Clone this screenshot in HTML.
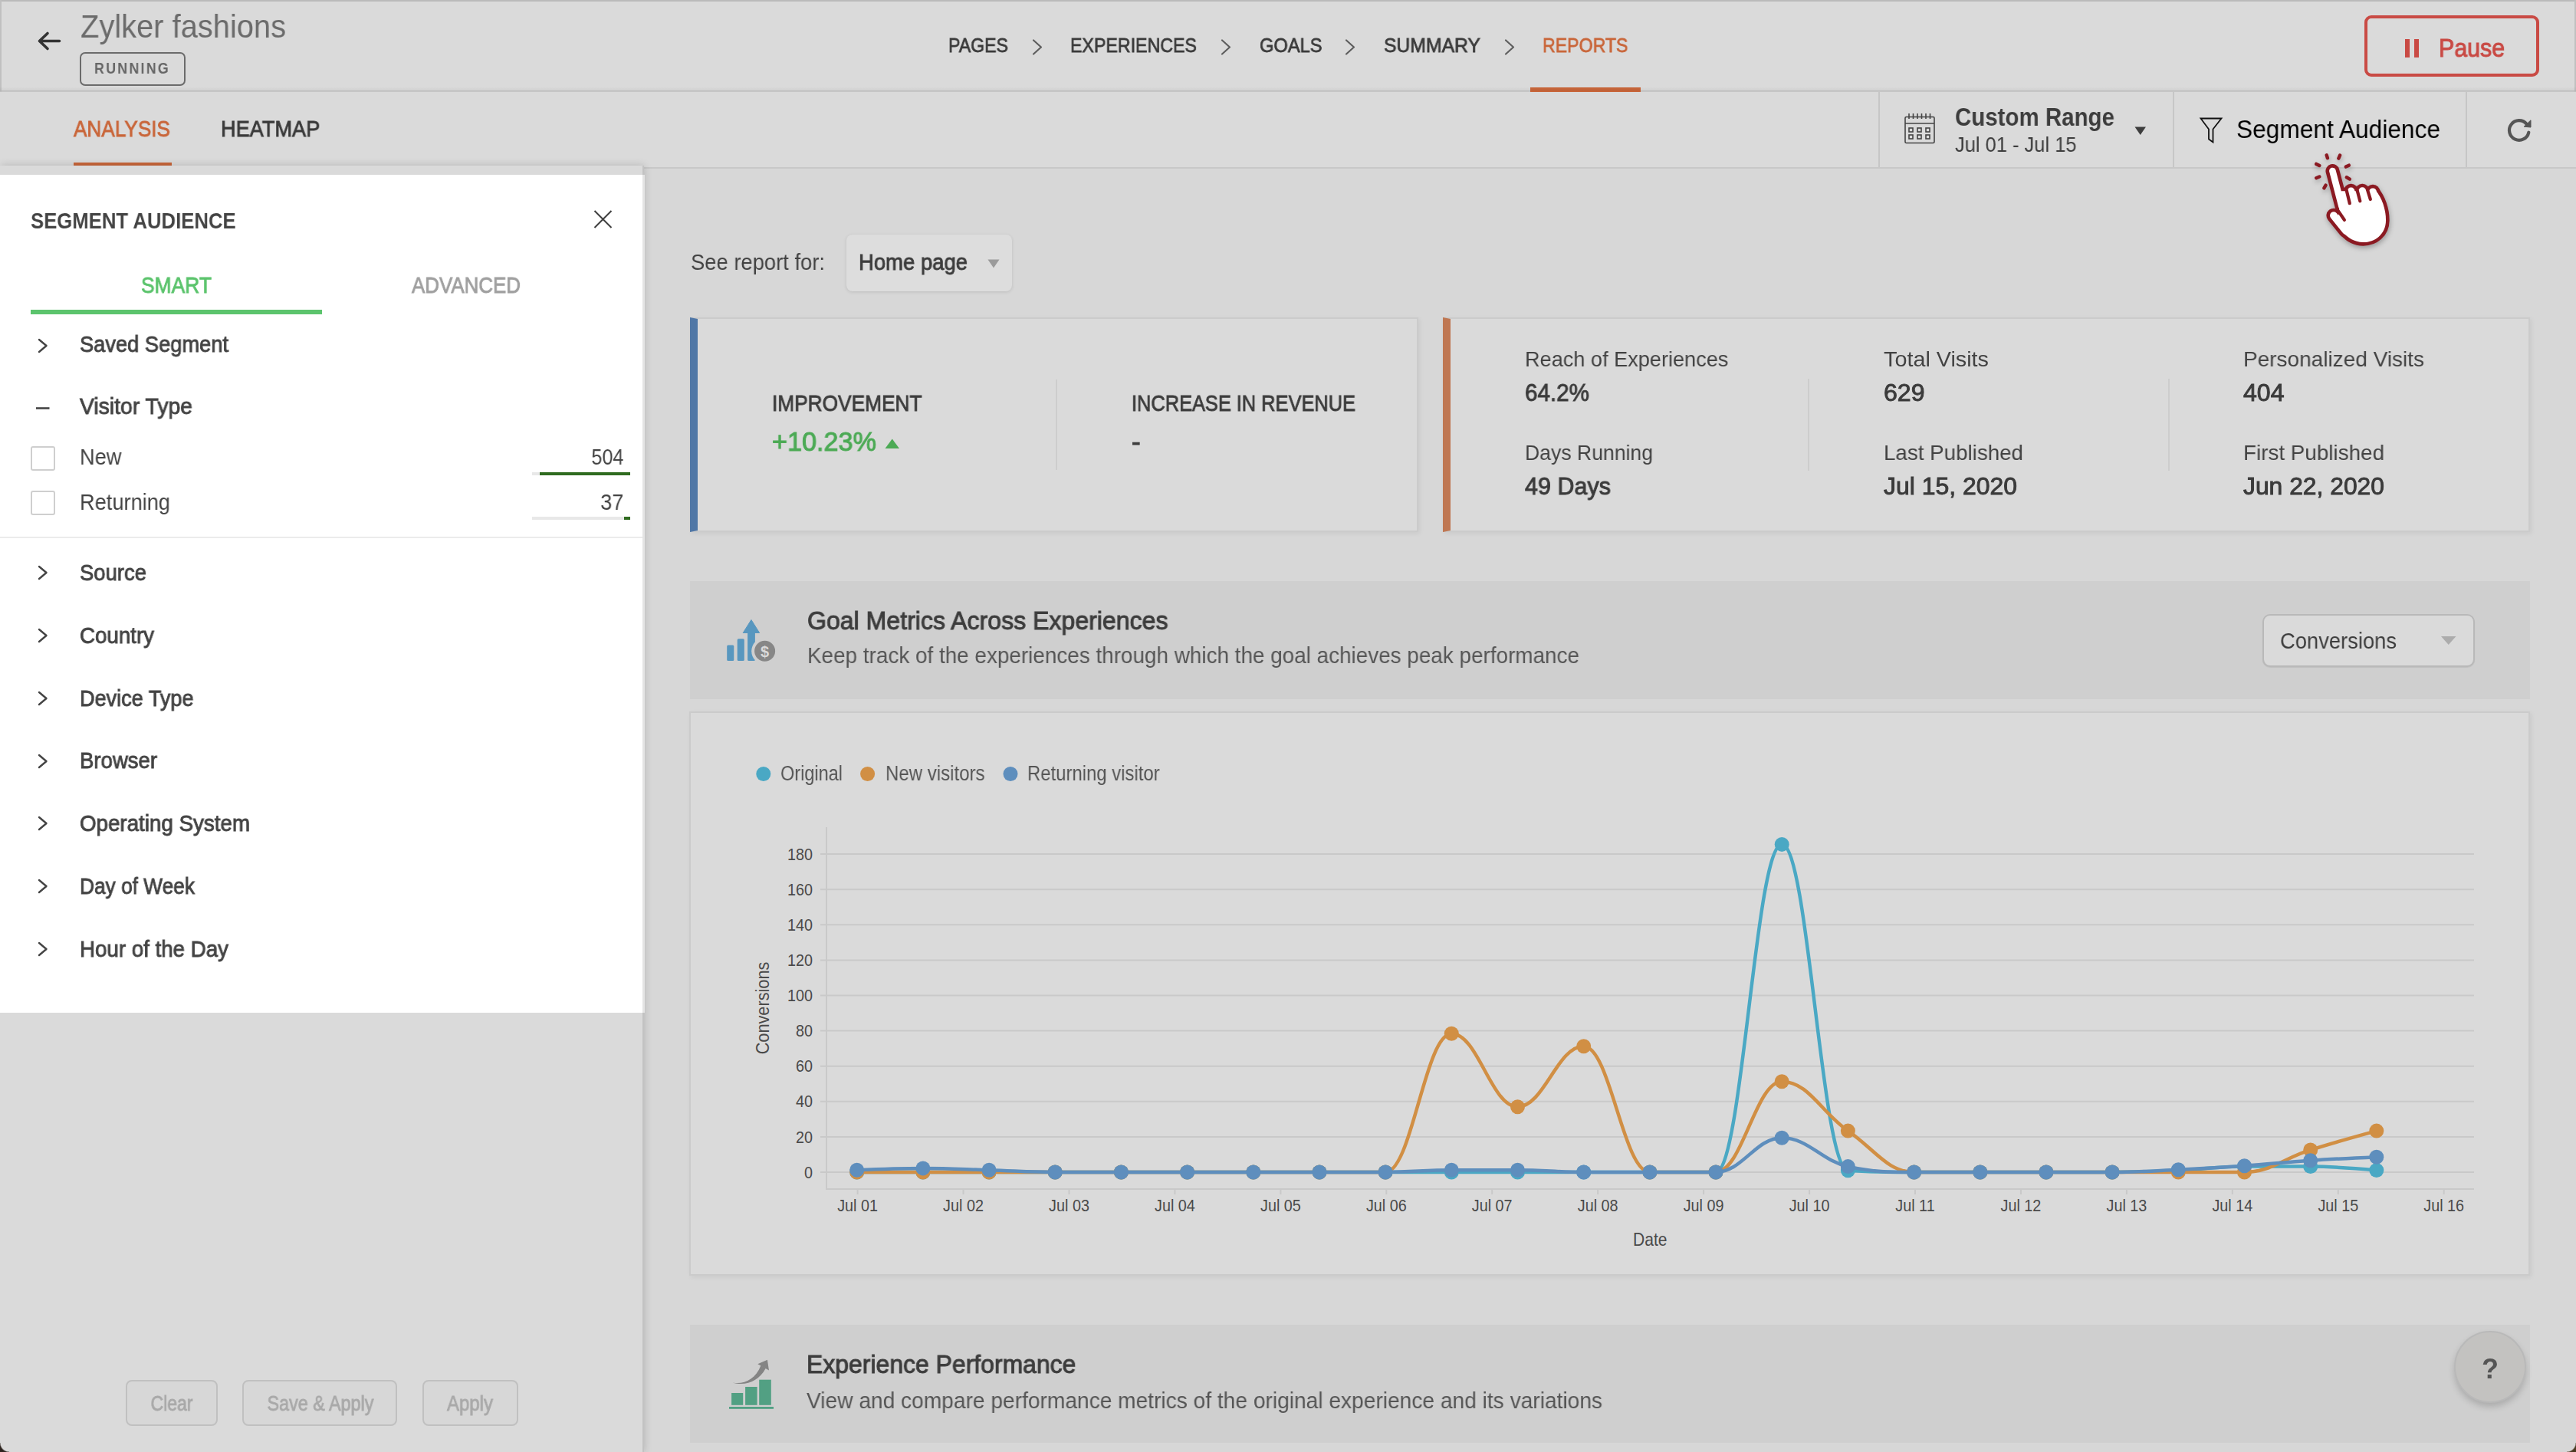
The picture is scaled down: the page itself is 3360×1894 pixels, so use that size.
<!DOCTYPE html>
<html><head><meta charset="utf-8">
<style>
*{box-sizing:border-box;margin:0;padding:0}
html,body{width:3360px;height:1894px;overflow:hidden;background:#d7d7d7;font-family:"Liberation Sans",sans-serif;color:#3d3d3d;position:relative}
.a{position:absolute;white-space:nowrap;line-height:1}
.t{will-change:transform}
.b{position:absolute}
.vd{position:absolute;width:2px;background:#c6c6c6}
svg{overflow:visible}
</style></head><body>
<!-- header bars -->
<div class="b" style="left:0;top:0;width:3360px;height:120px;background:#dadada;border-bottom:2px solid #c7c7c7"></div>
<div class="b" style="left:0;top:120px;width:3360px;height:100px;background:#dadada;border-bottom:2px solid #c8c8c8"></div>
<!-- back arrow -->
<svg class="b" style="left:0;top:0" width="200" height="120"><path d="M77.5 53.5 H52 M62 43.5 L51.5 53.5 L62 63.5" fill="none" stroke="#333" stroke-width="3.6" stroke-linecap="round" stroke-linejoin="round"/></svg>
<!-- running badge -->
<div class="b" style="left:104px;top:68px;width:138px;height:44px;border:2px solid #6b6b6b;border-radius:7px"></div>
<!-- nav chevrons -->
<svg class="b" style="left:0;top:0" width="3360" height="120">
<g fill="none" stroke="#5e5e5e" stroke-width="2.2" stroke-linecap="round" stroke-linejoin="round">
<path d="M1348 52.5 L1358 61.5 L1348 70.5"/>
<path d="M1594 52.5 L1604 61.5 L1594 70.5"/>
<path d="M1756 52.5 L1766 61.5 L1756 70.5"/>
<path d="M1964 52.5 L1974 61.5 L1964 70.5"/>
</g></svg>
<div class="b" style="left:1996px;top:114px;width:144px;height:6px;background:#c9663a"></div>
<!-- pause button -->
<div class="b" style="left:3084px;top:20px;width:228px;height:80px;border:4px solid #c94a44;border-radius:9px"></div>
<div class="b" style="left:3137px;top:51px;width:6px;height:24px;background:#c94a44"></div>
<div class="b" style="left:3149px;top:51px;width:6px;height:24px;background:#c94a44"></div>
<!-- sub bar -->
<div class="b" style="left:96px;top:212px;width:128px;height:4px;background:#c9663a"></div>
<div class="vd" style="left:2450px;top:120px;height:98px"></div>
<div class="vd" style="left:2834px;top:120px;height:98px"></div>
<div class="vd" style="left:3216px;top:120px;height:98px"></div>
<!-- calendar icon -->
<svg class="b" style="left:2484px;top:148px" width="40" height="40" viewBox="0 0 40 40">
<g fill="none" stroke="#444" stroke-width="1.6">
<rect x="1" y="4.5" width="38" height="34" rx="1.5"/>
<line x1="1" y1="13" x2="39" y2="13"/>
<line x1="6" y1="0" x2="6" y2="7"/><line x1="11.5" y1="0" x2="11.5" y2="7"/><line x1="17" y1="0" x2="17" y2="7"/><line x1="22.5" y1="0" x2="22.5" y2="7"/><line x1="28" y1="0" x2="28" y2="7"/><line x1="33.5" y1="0" x2="33.5" y2="7"/>
<rect x="6" y="19" width="5" height="5"/><rect x="17" y="19" width="5" height="5"/><rect x="28" y="19" width="5" height="5"/>
<rect x="6" y="28" width="5" height="5"/><rect x="17" y="28" width="5" height="5"/><rect x="28" y="28" width="5" height="5"/>
</g></svg>
<svg class="b" style="left:2784px;top:165px" width="16" height="12"><path d="M0.5 0.5 H15 L7.75 11 Z" fill="#3d3d3d"/></svg>
<!-- funnel -->
<svg class="b" style="left:2869px;top:153px" width="32" height="36" viewBox="0 0 32 36"><path d="M1.5 1.5 H28.5 L17.5 15.5 V32.5 L12 28.5 V15.5 Z" fill="none" stroke="#111" stroke-width="1.8" stroke-linejoin="miter"/></svg>
<!-- refresh -->
<svg class="b" style="left:3260px;top:145px" width="50" height="50" viewBox="3260 145 50 50"><path d="M3298.3 172.7 A 12.8 12.8 0 1 1 3295.6 161.8" fill="none" stroke="#555" stroke-width="4.2" stroke-linecap="round"/><path d="M3301 156.8 L3301 166 L3292.2 165.2 Z" fill="#555" stroke="#555" stroke-width="1" stroke-linejoin="round"/></svg>

<!-- panel -->
<div class="b" style="left:0;top:216px;width:838px;height:1678px;background:#dadada;box-shadow:2px 0 10px rgba(0,0,0,0.18)"></div>
<div class="b" style="left:838px;top:216px;width:2px;height:1678px;background:#c2c2c2"></div>
<div class="b" style="left:0;top:228px;width:841px;height:1093px;background:#ffffff;border-right:3px solid #e4e4e4"></div>
<!-- close X -->
<svg class="b" style="left:770px;top:270px" width="34" height="34"><path d="M5.5 5 L27.5 27 M27.5 5 L5.5 27" stroke="#3e3e3e" stroke-width="2"/></svg>
<div class="b" style="left:40px;top:404px;width:380px;height:6px;background:#5cc46d"></div>
<svg class="b" style="left:0;top:0" width="840" height="1320">
<g fill="none" stroke="#444" stroke-width="2.4" stroke-linecap="round" stroke-linejoin="round">
<path d="M51 443 L60.5 451 L51 459"/>
<path d="M51 739 L60.5 747 L51 755"/>
<path d="M51 821 L60.5 829 L51 837"/>
<path d="M51 903 L60.5 911 L51 919"/>
<path d="M51 985 L60.5 993 L51 1001"/>
<path d="M51 1066 L60.5 1074 L51 1082"/>
<path d="M51 1148 L60.5 1156 L51 1164"/>
<path d="M51 1230 L60.5 1238 L51 1246"/>
</g>
<line x1="47" y1="532.5" x2="64.5" y2="532.5" stroke="#444" stroke-width="2.6"/>
</svg>
<div class="b" style="left:40px;top:582px;width:32px;height:32px;border:2px solid #cfcfcf;border-radius:3px"></div>
<div class="b" style="left:40px;top:640px;width:32px;height:32px;border:2px solid #cfcfcf;border-radius:3px"></div>
<div class="b" style="left:694px;top:616px;width:128px;height:4px;background:#e8e8e8"></div>
<div class="b" style="left:704px;top:616px;width:118px;height:4px;background:#2f6b1f"></div>
<div class="b" style="left:694px;top:674px;width:128px;height:4px;background:#e8e8e8"></div>
<div class="b" style="left:814px;top:674px;width:8px;height:4px;background:#2f6b1f"></div>
<div class="b" style="left:0;top:700px;width:838px;height:2px;background:#ebebeb"></div>
<!-- bottom buttons -->
<div class="b" style="left:164px;top:1800px;width:120px;height:60px;border:2px solid #c0c0c0;border-radius:8px;background:#d7d7d7"></div>
<div class="b" style="left:316px;top:1800px;width:202px;height:60px;border:2px solid #c0c0c0;border-radius:8px;background:#d7d7d7"></div>
<div class="b" style="left:551px;top:1800px;width:125px;height:60px;border:2px solid #c0c0c0;border-radius:8px;background:#d7d7d7"></div>

<!-- main content -->
<div class="b" style="left:1104px;top:306px;width:216px;height:74px;border-radius:8px;background:#dddddd;box-shadow:0 1px 4px rgba(0,0,0,0.12)"></div>
<svg class="b" style="left:1288px;top:338px" width="16" height="12"><path d="M0.5 0.5 H15.5 L8 11.5 Z" fill="#9a9a9a"/></svg>
<!-- card 1 -->
<div class="b" style="left:900px;top:414px;width:950px;height:280px;background:#dadada;border:2px solid #cbcbcb;border-left:10px solid #5077a6;box-shadow:2px 2px 6px rgba(0,0,0,0.06)"></div>
<div class="b" style="left:1377px;top:495px;width:2px;height:118px;background:#cdcdcd"></div>
<svg class="b" style="left:1154px;top:572px" width="20" height="14"><path d="M0.5 13 H19 L9.75 0.5 Z" fill="#4caa55"/></svg>
<!-- card 2 -->
<div class="b" style="left:1882px;top:414px;width:1418px;height:280px;background:#dadada;border:2px solid #cbcbcb;border-left:10px solid #bf7752;box-shadow:2px 2px 6px rgba(0,0,0,0.06)"></div>
<div class="b" style="left:2358px;top:494px;width:2px;height:120px;background:#cdcdcd"></div>
<div class="b" style="left:2828px;top:494px;width:2px;height:120px;background:#cdcdcd"></div>
<!-- goal metrics band -->
<div class="b" style="left:899.5px;top:758px;width:2400.5px;height:154px;background:#cfcfcf"></div>
<svg class="b" style="left:930px;top:795px" width="90" height="80" viewBox="930 795 90 80">
<g fill="#5897bf"><rect x="948.2" y="841.6" width="9.1" height="20.4" rx="1.5"/><rect x="961.7" y="833.3" width="9.1" height="28.7" rx="1.5"/><rect x="975.1" y="823" width="9.8" height="39" rx="1.5"/><path d="M979.9 808.5 L990.6 825.5 L969.2 825.5 Z" stroke="#5897bf" stroke-width="1" stroke-linejoin="round"/></g>
<circle cx="997.6" cy="849.3" r="17.4" fill="#cfcfcf"/>
<circle cx="997.6" cy="849.3" r="13.5" fill="#878787"/>
<text x="997.6" y="856.5" text-anchor="middle" font-size="20" font-weight="700" fill="#d9d9d9" font-family="Liberation Sans">$</text>
</svg>
<div class="b" style="left:2950.5px;top:801px;width:277px;height:69px;border:2px solid #b9b9b9;border-radius:10px;background:#dadada;box-shadow:0 1px 1px rgba(0,0,0,0.08)"></div>
<svg class="b" style="left:3184px;top:830px" width="20" height="12"><path d="M0 0 H19.5 L9.75 11 Z" fill="#acacac"/></svg>
<!-- chart card -->
<div class="b" style="left:899px;top:928px;width:2401px;height:736px;background:#dadada;border:2px solid #cbcbcb;box-shadow:2px 2px 6px rgba(0,0,0,0.06)"></div>
<svg class="a" style="left:0;top:0" width="3360" height="1894" viewBox="0 0 3360 1894">
<line x1="1070" x2="3227" y1="1529.0" y2="1529.0" stroke="#c9c9c9" stroke-width="2"/>
<line x1="1070" x2="3227" y1="1482.9" y2="1482.9" stroke="#c9c9c9" stroke-width="2"/>
<line x1="1070" x2="3227" y1="1436.8" y2="1436.8" stroke="#c9c9c9" stroke-width="2"/>
<line x1="1070" x2="3227" y1="1390.7" y2="1390.7" stroke="#c9c9c9" stroke-width="2"/>
<line x1="1070" x2="3227" y1="1344.6" y2="1344.6" stroke="#c9c9c9" stroke-width="2"/>
<line x1="1070" x2="3227" y1="1298.5" y2="1298.5" stroke="#c9c9c9" stroke-width="2"/>
<line x1="1070" x2="3227" y1="1252.4" y2="1252.4" stroke="#c9c9c9" stroke-width="2"/>
<line x1="1070" x2="3227" y1="1206.3" y2="1206.3" stroke="#c9c9c9" stroke-width="2"/>
<line x1="1070" x2="3227" y1="1160.2" y2="1160.2" stroke="#c9c9c9" stroke-width="2"/>
<line x1="1070" x2="3227" y1="1114.1" y2="1114.1" stroke="#c9c9c9" stroke-width="2"/>
<line x1="1078" x2="1078" y1="1079" y2="1552" stroke="#c9c9c9" stroke-width="2"/>
<line x1="1077" x2="3227" y1="1551" y2="1551" stroke="#c9c9c9" stroke-width="2"/>
<line x1="1118.6" x2="1118.6" y1="1551" y2="1558" stroke="#c9c9c9" stroke-width="2"/>
<line x1="1256.5" x2="1256.5" y1="1551" y2="1558" stroke="#c9c9c9" stroke-width="2"/>
<line x1="1394.5" x2="1394.5" y1="1551" y2="1558" stroke="#c9c9c9" stroke-width="2"/>
<line x1="1532.4" x2="1532.4" y1="1551" y2="1558" stroke="#c9c9c9" stroke-width="2"/>
<line x1="1670.4" x2="1670.4" y1="1551" y2="1558" stroke="#c9c9c9" stroke-width="2"/>
<line x1="1808.3" x2="1808.3" y1="1551" y2="1558" stroke="#c9c9c9" stroke-width="2"/>
<line x1="1946.2" x2="1946.2" y1="1551" y2="1558" stroke="#c9c9c9" stroke-width="2"/>
<line x1="2084.2" x2="2084.2" y1="1551" y2="1558" stroke="#c9c9c9" stroke-width="2"/>
<line x1="2222.1" x2="2222.1" y1="1551" y2="1558" stroke="#c9c9c9" stroke-width="2"/>
<line x1="2360.1" x2="2360.1" y1="1551" y2="1558" stroke="#c9c9c9" stroke-width="2"/>
<line x1="2498.0" x2="2498.0" y1="1551" y2="1558" stroke="#c9c9c9" stroke-width="2"/>
<line x1="2635.9" x2="2635.9" y1="1551" y2="1558" stroke="#c9c9c9" stroke-width="2"/>
<line x1="2773.9" x2="2773.9" y1="1551" y2="1558" stroke="#c9c9c9" stroke-width="2"/>
<line x1="2911.8" x2="2911.8" y1="1551" y2="1558" stroke="#c9c9c9" stroke-width="2"/>
<line x1="3049.8" x2="3049.8" y1="1551" y2="1558" stroke="#c9c9c9" stroke-width="2"/>
<line x1="3187.7" x2="3187.7" y1="1551" y2="1558" stroke="#c9c9c9" stroke-width="2"/>
<text transform="translate(1060,1536.6) scale(0.9,1)" text-anchor="end" font-size="22" fill="#4a4a4a">0</text>
<text transform="translate(1060,1490.5) scale(0.9,1)" text-anchor="end" font-size="22" fill="#4a4a4a">20</text>
<text transform="translate(1060,1444.4) scale(0.9,1)" text-anchor="end" font-size="22" fill="#4a4a4a">40</text>
<text transform="translate(1060,1398.3) scale(0.9,1)" text-anchor="end" font-size="22" fill="#4a4a4a">60</text>
<text transform="translate(1060,1352.2) scale(0.9,1)" text-anchor="end" font-size="22" fill="#4a4a4a">80</text>
<text transform="translate(1060,1306.1) scale(0.9,1)" text-anchor="end" font-size="22" fill="#4a4a4a">100</text>
<text transform="translate(1060,1260.0) scale(0.9,1)" text-anchor="end" font-size="22" fill="#4a4a4a">120</text>
<text transform="translate(1060,1213.9) scale(0.9,1)" text-anchor="end" font-size="22" fill="#4a4a4a">140</text>
<text transform="translate(1060,1167.8) scale(0.9,1)" text-anchor="end" font-size="22" fill="#4a4a4a">160</text>
<text transform="translate(1060,1121.7) scale(0.9,1)" text-anchor="end" font-size="22" fill="#4a4a4a">180</text>
<text transform="translate(1118.6,1580.3) scale(0.9,1)" text-anchor="middle" font-size="22" fill="#4a4a4a">Jul 01</text>
<text transform="translate(1256.5,1580.3) scale(0.9,1)" text-anchor="middle" font-size="22" fill="#4a4a4a">Jul 02</text>
<text transform="translate(1394.5,1580.3) scale(0.9,1)" text-anchor="middle" font-size="22" fill="#4a4a4a">Jul 03</text>
<text transform="translate(1532.4,1580.3) scale(0.9,1)" text-anchor="middle" font-size="22" fill="#4a4a4a">Jul 04</text>
<text transform="translate(1670.4,1580.3) scale(0.9,1)" text-anchor="middle" font-size="22" fill="#4a4a4a">Jul 05</text>
<text transform="translate(1808.3,1580.3) scale(0.9,1)" text-anchor="middle" font-size="22" fill="#4a4a4a">Jul 06</text>
<text transform="translate(1946.2,1580.3) scale(0.9,1)" text-anchor="middle" font-size="22" fill="#4a4a4a">Jul 07</text>
<text transform="translate(2084.2,1580.3) scale(0.9,1)" text-anchor="middle" font-size="22" fill="#4a4a4a">Jul 08</text>
<text transform="translate(2222.1,1580.3) scale(0.9,1)" text-anchor="middle" font-size="22" fill="#4a4a4a">Jul 09</text>
<text transform="translate(2360.1,1580.3) scale(0.9,1)" text-anchor="middle" font-size="22" fill="#4a4a4a">Jul 10</text>
<text transform="translate(2498.0,1580.3) scale(0.9,1)" text-anchor="middle" font-size="22" fill="#4a4a4a">Jul 11</text>
<text transform="translate(2635.9,1580.3) scale(0.9,1)" text-anchor="middle" font-size="22" fill="#4a4a4a">Jul 12</text>
<text transform="translate(2773.9,1580.3) scale(0.9,1)" text-anchor="middle" font-size="22" fill="#4a4a4a">Jul 13</text>
<text transform="translate(2911.8,1580.3) scale(0.9,1)" text-anchor="middle" font-size="22" fill="#4a4a4a">Jul 14</text>
<text transform="translate(3049.8,1580.3) scale(0.9,1)" text-anchor="middle" font-size="22" fill="#4a4a4a">Jul 15</text>
<text transform="translate(3187.7,1580.3) scale(0.9,1)" text-anchor="middle" font-size="22" fill="#4a4a4a">Jul 16</text>
<text transform="translate(2152.2,1625) scale(0.878,1)" text-anchor="middle" font-size="24" fill="#4a4a4a">Date</text>
<text transform="translate(1003,1315) rotate(-90) scale(0.905,1)" text-anchor="middle" font-size="24" fill="#4a4a4a">Conversions</text>
<path d="M 1117.70 1529.00 C 1117.70 1529.00 1169.41 1529.00 1203.88 1529.00 C 1238.35 1529.00 1255.59 1529.00 1290.06 1529.00 C 1324.53 1529.00 1341.77 1529.00 1376.24 1529.00 C 1410.71 1529.00 1427.95 1529.00 1462.42 1529.00 C 1496.89 1529.00 1514.13 1529.00 1548.60 1529.00 C 1583.07 1529.00 1600.31 1529.00 1634.78 1529.00 C 1669.25 1529.00 1686.49 1529.00 1720.96 1529.00 C 1755.43 1529.00 1772.67 1529.00 1807.14 1529.00 C 1841.61 1529.00 1858.85 1529.00 1893.32 1529.00 C 1927.79 1529.00 1945.03 1529.00 1979.50 1529.00 C 2013.97 1529.00 2031.21 1529.00 2065.68 1529.00 C 2100.15 1529.00 2117.39 1529.00 2151.86 1529.00 C 2186.33 1529.00 2203.57 1529.00 2238.04 1529.00 C 2272.51 1529.00 2289.75 1101.42 2324.22 1101.42 C 2358.69 1101.42 2375.93 1524.39 2410.40 1526.69 C 2444.87 1529.00 2462.11 1529.00 2496.58 1529.00 C 2531.05 1529.00 2548.29 1529.00 2582.76 1529.00 C 2617.23 1529.00 2634.47 1529.00 2668.94 1529.00 C 2703.41 1529.00 2720.65 1529.00 2755.12 1529.00 C 2789.59 1529.00 2806.83 1528.22 2841.30 1526.69 C 2875.77 1525.17 2893.01 1521.39 2927.48 1521.39 C 2961.95 1521.39 2979.19 1521.39 3013.66 1521.62 C 3048.13 1521.85 3099.84 1526.46 3099.84 1526.46" fill="none" stroke="#4aa8c4" stroke-width="4.5" stroke-linejoin="round" stroke-linecap="round"/>
<circle cx="1117.7" cy="1529.0" r="9.5" fill="#4aa8c4"/>
<circle cx="1203.9" cy="1529.0" r="9.5" fill="#4aa8c4"/>
<circle cx="1290.1" cy="1529.0" r="9.5" fill="#4aa8c4"/>
<circle cx="1376.2" cy="1529.0" r="9.5" fill="#4aa8c4"/>
<circle cx="1462.4" cy="1529.0" r="9.5" fill="#4aa8c4"/>
<circle cx="1548.6" cy="1529.0" r="9.5" fill="#4aa8c4"/>
<circle cx="1634.8" cy="1529.0" r="9.5" fill="#4aa8c4"/>
<circle cx="1721.0" cy="1529.0" r="9.5" fill="#4aa8c4"/>
<circle cx="1807.1" cy="1529.0" r="9.5" fill="#4aa8c4"/>
<circle cx="1893.3" cy="1529.0" r="9.5" fill="#4aa8c4"/>
<circle cx="1979.5" cy="1529.0" r="9.5" fill="#4aa8c4"/>
<circle cx="2065.7" cy="1529.0" r="9.5" fill="#4aa8c4"/>
<circle cx="2151.9" cy="1529.0" r="9.5" fill="#4aa8c4"/>
<circle cx="2238.0" cy="1529.0" r="9.5" fill="#4aa8c4"/>
<circle cx="2324.2" cy="1101.4" r="9.5" fill="#4aa8c4"/>
<circle cx="2410.4" cy="1526.7" r="9.5" fill="#4aa8c4"/>
<circle cx="2496.6" cy="1529.0" r="9.5" fill="#4aa8c4"/>
<circle cx="2582.8" cy="1529.0" r="9.5" fill="#4aa8c4"/>
<circle cx="2668.9" cy="1529.0" r="9.5" fill="#4aa8c4"/>
<circle cx="2755.1" cy="1529.0" r="9.5" fill="#4aa8c4"/>
<circle cx="2841.3" cy="1526.7" r="9.5" fill="#4aa8c4"/>
<circle cx="2927.5" cy="1521.4" r="9.5" fill="#4aa8c4"/>
<circle cx="3013.7" cy="1521.6" r="9.5" fill="#4aa8c4"/>
<circle cx="3099.8" cy="1526.5" r="9.5" fill="#4aa8c4"/>
<path d="M 1117.70 1529.00 C 1117.70 1529.00 1169.41 1529.00 1203.88 1529.00 C 1238.35 1529.00 1255.59 1529.00 1290.06 1529.00 C 1324.53 1529.00 1341.77 1529.00 1376.24 1529.00 C 1410.71 1529.00 1427.95 1529.00 1462.42 1529.00 C 1496.89 1529.00 1514.13 1529.00 1548.60 1529.00 C 1583.07 1529.00 1600.31 1529.00 1634.78 1529.00 C 1669.25 1529.00 1686.49 1529.00 1720.96 1529.00 C 1755.43 1529.00 1772.67 1529.00 1807.14 1529.00 C 1841.61 1529.00 1858.85 1348.29 1893.32 1348.29 C 1927.79 1348.29 1945.03 1443.71 1979.50 1443.71 C 2013.97 1443.71 2031.21 1364.65 2065.68 1364.65 C 2100.15 1364.65 2117.39 1529.00 2151.86 1529.00 C 2186.33 1529.00 2203.57 1529.00 2238.04 1529.00 C 2272.51 1529.00 2289.75 1410.75 2324.22 1410.75 C 2358.69 1410.75 2375.93 1451.41 2410.40 1475.06 C 2444.87 1498.71 2462.11 1529.00 2496.58 1529.00 C 2531.05 1529.00 2548.29 1529.00 2582.76 1529.00 C 2617.23 1529.00 2634.47 1529.00 2668.94 1529.00 C 2703.41 1529.00 2720.65 1529.00 2755.12 1529.00 C 2789.59 1529.00 2806.83 1529.00 2841.30 1529.00 C 2875.77 1529.00 2893.01 1529.00 2927.48 1529.00 C 2961.95 1529.00 2979.19 1510.74 3013.66 1499.96 C 3048.13 1489.17 3099.84 1475.06 3099.84 1475.06" fill="none" stroke="#d18f44" stroke-width="4.5" stroke-linejoin="round" stroke-linecap="round"/>
<circle cx="1117.7" cy="1529.0" r="9.5" fill="#d18f44"/>
<circle cx="1203.9" cy="1529.0" r="9.5" fill="#d18f44"/>
<circle cx="1290.1" cy="1529.0" r="9.5" fill="#d18f44"/>
<circle cx="1376.2" cy="1529.0" r="9.5" fill="#d18f44"/>
<circle cx="1462.4" cy="1529.0" r="9.5" fill="#d18f44"/>
<circle cx="1548.6" cy="1529.0" r="9.5" fill="#d18f44"/>
<circle cx="1634.8" cy="1529.0" r="9.5" fill="#d18f44"/>
<circle cx="1721.0" cy="1529.0" r="9.5" fill="#d18f44"/>
<circle cx="1807.1" cy="1529.0" r="9.5" fill="#d18f44"/>
<circle cx="1893.3" cy="1348.3" r="9.5" fill="#d18f44"/>
<circle cx="1979.5" cy="1443.7" r="9.5" fill="#d18f44"/>
<circle cx="2065.7" cy="1364.7" r="9.5" fill="#d18f44"/>
<circle cx="2151.9" cy="1529.0" r="9.5" fill="#d18f44"/>
<circle cx="2238.0" cy="1529.0" r="9.5" fill="#d18f44"/>
<circle cx="2324.2" cy="1410.8" r="9.5" fill="#d18f44"/>
<circle cx="2410.4" cy="1475.1" r="9.5" fill="#d18f44"/>
<circle cx="2496.6" cy="1529.0" r="9.5" fill="#d18f44"/>
<circle cx="2582.8" cy="1529.0" r="9.5" fill="#d18f44"/>
<circle cx="2668.9" cy="1529.0" r="9.5" fill="#d18f44"/>
<circle cx="2755.1" cy="1529.0" r="9.5" fill="#d18f44"/>
<circle cx="2841.3" cy="1529.0" r="9.5" fill="#d18f44"/>
<circle cx="2927.5" cy="1529.0" r="9.5" fill="#d18f44"/>
<circle cx="3013.7" cy="1500.0" r="9.5" fill="#d18f44"/>
<circle cx="3099.8" cy="1475.1" r="9.5" fill="#d18f44"/>
<path d="M 1117.70 1526.23 C 1117.70 1526.23 1169.41 1523.93 1203.88 1523.93 C 1238.35 1523.93 1255.59 1525.22 1290.06 1526.23 C 1324.53 1527.25 1341.77 1529.00 1376.24 1529.00 C 1410.71 1529.00 1427.95 1529.00 1462.42 1529.00 C 1496.89 1529.00 1514.13 1529.00 1548.60 1529.00 C 1583.07 1529.00 1600.31 1529.00 1634.78 1529.00 C 1669.25 1529.00 1686.49 1529.00 1720.96 1529.00 C 1755.43 1529.00 1772.67 1529.00 1807.14 1529.00 C 1841.61 1529.00 1858.85 1526.23 1893.32 1526.23 C 1927.79 1526.23 1945.03 1526.23 1979.50 1526.23 C 2013.97 1526.23 2031.21 1529.00 2065.68 1529.00 C 2100.15 1529.00 2117.39 1529.00 2151.86 1529.00 C 2186.33 1529.00 2203.57 1529.00 2238.04 1529.00 C 2272.51 1529.00 2289.75 1484.28 2324.22 1484.28 C 2358.69 1484.28 2375.93 1514.25 2410.40 1521.62 C 2444.87 1529.00 2462.11 1529.00 2496.58 1529.00 C 2531.05 1529.00 2548.29 1529.00 2582.76 1529.00 C 2617.23 1529.00 2634.47 1529.00 2668.94 1529.00 C 2703.41 1529.00 2720.65 1529.00 2755.12 1529.00 C 2789.59 1529.00 2806.83 1527.43 2841.30 1525.77 C 2875.77 1524.11 2893.01 1523.10 2927.48 1520.70 C 2961.95 1518.30 2979.19 1516.09 3013.66 1513.79 C 3048.13 1511.48 3099.84 1509.18 3099.84 1509.18" fill="none" stroke="#5e8ebd" stroke-width="4.5" stroke-linejoin="round" stroke-linecap="round"/>
<circle cx="1117.7" cy="1526.2" r="9.5" fill="#5e8ebd"/>
<circle cx="1203.9" cy="1523.9" r="9.5" fill="#5e8ebd"/>
<circle cx="1290.1" cy="1526.2" r="9.5" fill="#5e8ebd"/>
<circle cx="1376.2" cy="1529.0" r="9.5" fill="#5e8ebd"/>
<circle cx="1462.4" cy="1529.0" r="9.5" fill="#5e8ebd"/>
<circle cx="1548.6" cy="1529.0" r="9.5" fill="#5e8ebd"/>
<circle cx="1634.8" cy="1529.0" r="9.5" fill="#5e8ebd"/>
<circle cx="1721.0" cy="1529.0" r="9.5" fill="#5e8ebd"/>
<circle cx="1807.1" cy="1529.0" r="9.5" fill="#5e8ebd"/>
<circle cx="1893.3" cy="1526.2" r="9.5" fill="#5e8ebd"/>
<circle cx="1979.5" cy="1526.2" r="9.5" fill="#5e8ebd"/>
<circle cx="2065.7" cy="1529.0" r="9.5" fill="#5e8ebd"/>
<circle cx="2151.9" cy="1529.0" r="9.5" fill="#5e8ebd"/>
<circle cx="2238.0" cy="1529.0" r="9.5" fill="#5e8ebd"/>
<circle cx="2324.2" cy="1484.3" r="9.5" fill="#5e8ebd"/>
<circle cx="2410.4" cy="1521.6" r="9.5" fill="#5e8ebd"/>
<circle cx="2496.6" cy="1529.0" r="9.5" fill="#5e8ebd"/>
<circle cx="2582.8" cy="1529.0" r="9.5" fill="#5e8ebd"/>
<circle cx="2668.9" cy="1529.0" r="9.5" fill="#5e8ebd"/>
<circle cx="2755.1" cy="1529.0" r="9.5" fill="#5e8ebd"/>
<circle cx="2841.3" cy="1525.8" r="9.5" fill="#5e8ebd"/>
<circle cx="2927.5" cy="1520.7" r="9.5" fill="#5e8ebd"/>
<circle cx="3013.7" cy="1513.8" r="9.5" fill="#5e8ebd"/>
<circle cx="3099.8" cy="1509.2" r="9.5" fill="#5e8ebd"/>
<circle cx="995.8" cy="1009.5" r="9.5" fill="#4aa8c4"/>
<circle cx="1131.6" cy="1009.5" r="9.5" fill="#d18f44"/>
<circle cx="1318.0" cy="1009.5" r="9.5" fill="#5e8ebd"/>
</svg>
<!-- experience performance band -->
<div class="b" style="left:900px;top:1728px;width:2400px;height:154px;background:#cfcfcf"></div>
<svg class="b" style="left:940px;top:1760px" width="80" height="90" viewBox="940 1760 80 90">
<g fill="#52a083"><rect x="954.1" y="1817" width="15.1" height="15.8"/><rect x="972.1" y="1809" width="15.5" height="23.8"/><rect x="990.2" y="1799.7" width="15.6" height="33.1"/><rect x="951" y="1835" width="58" height="2.8"/></g>
<path d="M955.5 1803.4 C970 1806 985 1800 992.5 1781 L998.8 1784.8 C989 1803 972 1808 955.5 1803.4 Z" fill="#848484"/>
<path d="M988.3 1779.2 L1000.9 1773.8 L1003 1787.5 Z" fill="#848484"/>
</svg>
<div class="b" style="left:3201px;top:1736px;width:94px;height:94px;border-radius:50%;background:#c3c2c0;border:2px solid #b9b9b9;box-shadow:0 5px 9px rgba(0,0,0,0.17)"></div>
<!-- hand cursor -->
<svg class="b" style="left:3000px;top:190px;filter:drop-shadow(1px 3px 3px rgba(0,0,0,0.28))" width="130" height="140" viewBox="0 0 1348 1452">
<g stroke="#8b1a22" stroke-width="46" stroke-linecap="round">
<line x1="360" y1="128" x2="372" y2="168"/><line x1="540" y1="130" x2="522" y2="172"/>
<line x1="220" y1="248" x2="262" y2="270"/><line x1="662" y1="266" x2="620" y2="286"/>
<line x1="220" y1="438" x2="262" y2="420"/><line x1="630" y1="428" x2="672" y2="452"/>
<line x1="325" y1="575" x2="348" y2="535"/>
</g>
<g stroke="#8b1a22" fill="#8b1a22" stroke-linecap="round" stroke-linejoin="round"><line x1="440" y1="342" x2="565" y2="820" stroke-width="186"/><line x1="455" y1="945" x2="620" y2="1150" stroke-width="196"/><circle cx="690" cy="615" r="98"/><circle cx="843" cy="613" r="98"/><circle cx="985" cy="625" r="98"/><path d="M560 615 L1030 615 C1100 700 1162 850 1162 1010 C1160 1200 1010 1307 855 1307 C730 1305 640 1240 590 1180 L505 1060 Z" stroke-width="96"/></g>
<g stroke="#ffffff" fill="#ffffff" stroke-linecap="round" stroke-linejoin="round"><line x1="440" y1="342" x2="565" y2="820" stroke-width="90"/><line x1="455" y1="945" x2="620" y2="1150" stroke-width="100"/><circle cx="690" cy="615" r="50"/><circle cx="843" cy="613" r="50"/><circle cx="985" cy="625" r="50"/><path d="M560 615 L1030 615 C1100 700 1162 850 1162 1010 C1160 1200 1010 1307 855 1307 C730 1305 640 1240 590 1180 L505 1060 Z" stroke-width="0"/></g>
<g stroke="#8b1a22" stroke-width="44" stroke-linecap="round">
<line x1="515" y1="880" x2="600" y2="1005"/>
<line x1="628" y1="600" x2="672" y2="780"/>
<line x1="775" y1="610" x2="812" y2="750"/>
<line x1="918" y1="615" x2="952" y2="725"/>
</g>
</svg>
<!-- window frame -->
<div class="b" style="left:0;top:1882px;width:12px;height:12px;background:radial-gradient(circle at 12px 0,rgba(0,0,0,0) 11px,#2e2420 12.5px)"></div>
<div class="b" style="left:3348px;top:1882px;width:12px;height:12px;background:radial-gradient(circle at 0 0,rgba(0,0,0,0) 11px,#4a3a22 12.5px)"></div>
<div class="b" style="left:0;top:0;width:3360px;height:2px;background:#bababa"></div>
<div class="b" style="left:0;top:0;width:2px;height:120px;background:#c0c0c0"></div>
<div class="b" style="left:3358px;top:0;width:2px;height:120px;background:#c0c0c0"></div>
<div class="b" style="left:0;top:113px;width:3360px;height:6px;background:linear-gradient(rgba(0,0,0,0),rgba(0,0,0,0.05))"></div>
<div class="a t" id="title" style="left:105.0px;top:14.0px;font-size:42.0px;font-weight:400;color:#6b6b6b;transform:scaleX(0.9489);transform-origin:left;">Zylker fashions</div>
<div class="a t" id="running" style="left:122.5px;top:78.6px;font-size:20.5px;font-weight:700;color:#666666;transform:scaleX(0.8694);transform-origin:left;letter-spacing:2.6px;">RUNNING</div>
<div class="a t" id="n1" style="left:1237.0px;top:46.3px;font-size:26.0px;font-weight:400;-webkit-text-stroke:0.78px currentColor;color:#3b3b3b;transform:scaleX(0.8897);transform-origin:left;">PAGES</div>
<div class="a t" id="n2" style="left:1396.4px;top:46.3px;font-size:26.0px;font-weight:400;-webkit-text-stroke:0.78px currentColor;color:#3b3b3b;transform:scaleX(0.8921);transform-origin:left;">EXPERIENCES</div>
<div class="a t" id="n3" style="left:1642.5px;top:46.3px;font-size:26.0px;font-weight:400;-webkit-text-stroke:0.78px currentColor;color:#3b3b3b;transform:scaleX(0.9097);transform-origin:left;">GOALS</div>
<div class="a t" id="n4" style="left:1804.7px;top:46.3px;font-size:26.0px;font-weight:400;-webkit-text-stroke:0.78px currentColor;color:#3b3b3b;transform:scaleX(0.9514);transform-origin:left;">SUMMARY</div>
<div class="a t" id="n5" style="left:2012.0px;top:46.3px;font-size:26.0px;font-weight:400;-webkit-text-stroke:0.78px currentColor;color:#c9663a;transform:scaleX(0.8904);transform-origin:left;">REPORTS</div>
<div class="a t" id="pause" style="left:3180.8px;top:46.7px;font-size:32.5px;font-weight:400;-webkit-text-stroke:0.97px currentColor;color:#c94a44;transform:scaleX(0.9354);transform-origin:left;">Pause</div>
<div class="a t" id="analysis" style="left:96.0px;top:153.5px;font-size:29.0px;font-weight:400;-webkit-text-stroke:0.87px currentColor;color:#c9663a;transform:scaleX(0.9019);transform-origin:left;">ANALYSIS</div>
<div class="a t" id="heatmap" style="left:288.0px;top:153.5px;font-size:29.0px;font-weight:400;-webkit-text-stroke:0.87px currentColor;color:#3b3b3b;transform:scaleX(0.9366);transform-origin:left;">HEATMAP</div>
<div class="a t" id="crange" style="left:2549.5px;top:136.4px;font-size:33.0px;font-weight:700;color:#3d3d3d;transform:scaleX(0.8932);transform-origin:left;">Custom Range</div>
<div class="a t" id="cdate" style="left:2549.5px;top:174.5px;font-size:28.0px;font-weight:400;color:#3d3d3d;transform:scaleX(0.9092);transform-origin:left;">Jul 01 - Jul 15</div>
<div class="a t" id="segaud" style="left:2917.4px;top:152.1px;font-size:33.0px;font-weight:400;color:#000000;transform:scaleX(0.9601);transform-origin:left;">Segment Audience</div>
<div class="a t" id="ptitle" style="left:40.3px;top:273.3px;font-size:29.5px;font-weight:700;color:#444444;transform:scaleX(0.8719);transform-origin:left;">SEGMENT AUDIENCE</div>
<div class="a t" id="smart" style="left:183.5px;top:357.5px;font-size:29.0px;font-weight:400;-webkit-text-stroke:0.87px currentColor;color:#5cc46d;transform:scaleX(0.9110);transform-origin:left;">SMART</div>
<div class="a t" id="adv" style="left:537.0px;top:357.5px;font-size:29.0px;font-weight:400;-webkit-text-stroke:0.87px currentColor;color:#a0a0a0;transform:scaleX(0.8931);transform-origin:left;">ADVANCED</div>
<div class="a t" id="saved" style="left:103.8px;top:434.5px;font-size:29.0px;font-weight:400;-webkit-text-stroke:0.87px currentColor;color:#444444;transform:scaleX(0.9401);transform-origin:left;">Saved Segment</div>
<div class="a t" id="vtype" style="left:103.8px;top:516.3px;font-size:29.0px;font-weight:400;-webkit-text-stroke:0.87px currentColor;color:#444444;transform:scaleX(0.9770);transform-origin:left;">Visitor Type</div>
<div class="a t" id="new" style="left:103.8px;top:582.0px;font-size:29.0px;font-weight:400;color:#444444;transform:scaleX(0.9394);transform-origin:left;">New</div>
<div class="a t" id="ret" style="left:103.8px;top:640.8px;font-size:29.0px;font-weight:400;color:#444444;transform:scaleX(0.9384);transform-origin:left;">Returning</div>
<div class="a t" id="c504" style="right:2546.2px;top:582.1px;font-size:29.0px;font-weight:400;color:#444444;transform:scaleX(0.8679);transform-origin:right;">504</div>
<div class="a t" id="c37" style="right:2546.4px;top:640.8px;font-size:29.0px;font-weight:400;color:#444444;transform:scaleX(0.9298);transform-origin:right;">37</div>
<div class="a t" id="row0" style="left:103.8px;top:732.9px;font-size:29.0px;font-weight:400;-webkit-text-stroke:0.87px currentColor;color:#444444;transform:scaleX(0.9468);transform-origin:left;">Source</div>
<div class="a t" id="row1" style="left:103.8px;top:814.7px;font-size:29.0px;font-weight:400;-webkit-text-stroke:0.87px currentColor;color:#444444;transform:scaleX(0.9552);transform-origin:left;">Country</div>
<div class="a t" id="row2" style="left:103.8px;top:896.5px;font-size:29.0px;font-weight:400;-webkit-text-stroke:0.87px currentColor;color:#444444;transform:scaleX(0.9337);transform-origin:left;">Device Type</div>
<div class="a t" id="row3" style="left:103.8px;top:978.3px;font-size:29.0px;font-weight:400;-webkit-text-stroke:0.87px currentColor;color:#444444;transform:scaleX(0.9496);transform-origin:left;">Browser</div>
<div class="a t" id="row4" style="left:103.8px;top:1060.1px;font-size:29.0px;font-weight:400;-webkit-text-stroke:0.87px currentColor;color:#444444;transform:scaleX(0.9564);transform-origin:left;">Operating System</div>
<div class="a t" id="row5" style="left:103.8px;top:1141.9px;font-size:29.0px;font-weight:400;-webkit-text-stroke:0.87px currentColor;color:#444444;transform:scaleX(0.9064);transform-origin:left;">Day of Week</div>
<div class="a t" id="row6" style="left:103.8px;top:1223.7px;font-size:29.0px;font-weight:400;-webkit-text-stroke:0.87px currentColor;color:#444444;transform:scaleX(0.9552);transform-origin:left;">Hour of the Day</div>
<div class="a t" id="bclear" style="left:224.0px;top:1818.1px;font-size:27.0px;font-weight:400;-webkit-text-stroke:0.81px currentColor;color:#a9a9a9;transform:translateX(-50%) scaleX(0.8523);">Clear</div>
<div class="a t" id="bsave" style="left:417.5px;top:1818.1px;font-size:27.0px;font-weight:400;-webkit-text-stroke:0.81px currentColor;color:#a9a9a9;transform:translateX(-50%) scaleX(0.8655);">Save &amp; Apply</div>
<div class="a t" id="bapply" style="left:613.0px;top:1818.1px;font-size:27.0px;font-weight:400;-webkit-text-stroke:0.81px currentColor;color:#a9a9a9;transform:translateX(-50%) scaleX(0.8883);">Apply</div>
<div class="a t" id="seerep" style="left:900.9px;top:327.5px;font-size:29.0px;font-weight:400;color:#424242;transform:scaleX(0.9440);transform-origin:left;">See report for:</div>
<div class="a t" id="homep" style="left:1120.2px;top:327.8px;font-size:29.0px;font-weight:400;-webkit-text-stroke:0.87px currentColor;color:#3d3d3d;transform:scaleX(0.9471);transform-origin:left;">Home page</div>
<div class="a t" id="impr" style="left:1006.7px;top:512.0px;font-size:29.0px;font-weight:400;-webkit-text-stroke:0.87px currentColor;color:#3d3d3d;transform:scaleX(0.9055);transform-origin:left;">IMPROVEMENT</div>
<div class="a t" id="imprv" style="left:1006.7px;top:558.4px;font-size:35.0px;font-weight:400;-webkit-text-stroke:1.05px currentColor;color:#4caa55;transform:scaleX(0.9773);transform-origin:left;">+10.23%</div>
<div class="a t" id="incr" style="left:1475.8px;top:512.0px;font-size:29.0px;font-weight:400;-webkit-text-stroke:0.87px currentColor;color:#3d3d3d;transform:scaleX(0.8754);transform-origin:left;">INCREASE IN REVENUE</div>
<div class="a t" id="dash" style="left:1475.8px;top:558.4px;font-size:35.0px;font-weight:400;-webkit-text-stroke:1.05px currentColor;color:#3d3d3d;">-</div>
<div class="a t" id="s_Reac" style="left:1988.9px;top:453.6px;font-size:28.5px;font-weight:400;color:#424242;transform:scaleX(0.9518);transform-origin:left;">Reach of Experiences</div>
<div class="a t" id="v_Reac" style="left:1988.9px;top:497.1px;font-size:31.5px;font-weight:400;-webkit-text-stroke:0.94px currentColor;color:#3b3b3b;transform:scaleX(0.9404);transform-origin:left;">64.2%</div>
<div class="a t" id="s_Days" style="left:1988.9px;top:575.9px;font-size:28.5px;font-weight:400;color:#424242;transform:scaleX(0.9329);transform-origin:left;">Days Running</div>
<div class="a t" id="v_Days" style="left:1988.9px;top:619.2px;font-size:31.5px;font-weight:400;-webkit-text-stroke:0.94px currentColor;color:#3b3b3b;transform:scaleX(0.9692);transform-origin:left;">49 Days</div>
<div class="a t" id="s_Tota" style="left:2457.0px;top:453.6px;font-size:28.5px;font-weight:400;color:#424242;transform:scaleX(1.0096);transform-origin:left;">Total Visits</div>
<div class="a t" id="v_Tota" style="left:2457.0px;top:497.1px;font-size:31.5px;font-weight:400;-webkit-text-stroke:0.94px currentColor;color:#3b3b3b;transform:scaleX(1.0178);transform-origin:left;">629</div>
<div class="a t" id="s_Last" style="left:2457.0px;top:575.9px;font-size:28.5px;font-weight:400;color:#424242;transform:scaleX(0.9734);transform-origin:left;">Last Published</div>
<div class="a t" id="v_Last" style="left:2457.0px;top:619.2px;font-size:31.5px;font-weight:400;-webkit-text-stroke:0.94px currentColor;color:#3b3b3b;transform:scaleX(1.0137);transform-origin:left;">Jul 15, 2020</div>
<div class="a t" id="s_Pers" style="left:2925.6px;top:453.6px;font-size:28.5px;font-weight:400;color:#424242;transform:scaleX(0.9822);transform-origin:left;">Personalized Visits</div>
<div class="a t" id="v_Pers" style="left:2925.6px;top:497.1px;font-size:31.5px;font-weight:400;-webkit-text-stroke:0.94px currentColor;color:#3b3b3b;transform:scaleX(1.0178);transform-origin:left;">404</div>
<div class="a t" id="s_Firs" style="left:2925.6px;top:575.9px;font-size:28.5px;font-weight:400;color:#424242;transform:scaleX(0.9761);transform-origin:left;">First Published</div>
<div class="a t" id="v_Firs" style="left:2925.6px;top:619.2px;font-size:31.5px;font-weight:400;-webkit-text-stroke:0.94px currentColor;color:#3b3b3b;transform:scaleX(1.0101);transform-origin:left;">Jun 22, 2020</div>
<div class="a t" id="gtitle" style="left:1052.7px;top:792.6px;font-size:33.0px;font-weight:400;-webkit-text-stroke:0.99px currentColor;color:#3d3d3d;transform:scaleX(0.9718);transform-origin:left;">Goal Metrics Across Experiences</div>
<div class="a t" id="gsub" style="left:1052.7px;top:841.0px;font-size:29.0px;font-weight:400;color:#555555;transform:scaleX(0.9610);transform-origin:left;">Keep track of the experiences through which the goal achieves peak performance</div>
<div class="a t" id="conv" style="left:2974.0px;top:822.0px;font-size:29.0px;font-weight:400;color:#3d3d3d;transform:scaleX(0.9430);transform-origin:left;">Conversions</div>
<div class="a t" id="lg1" style="left:1018.4px;top:996.4px;font-size:27.0px;font-weight:400;color:#555555;transform:scaleX(0.8705);transform-origin:left;">Original</div>
<div class="a t" id="lg2" style="left:1154.7px;top:996.4px;font-size:27.0px;font-weight:400;color:#555555;transform:scaleX(0.8905);transform-origin:left;">New visitors</div>
<div class="a t" id="lg3" style="left:1339.6px;top:996.4px;font-size:27.0px;font-weight:400;color:#555555;transform:scaleX(0.8853);transform-origin:left;">Returning visitor</div>
<div class="a t" id="etitle" style="left:1052.3px;top:1763.1px;font-size:33.0px;font-weight:400;-webkit-text-stroke:0.99px currentColor;color:#3d3d3d;transform:scaleX(0.9675);transform-origin:left;">Experience Performance</div>
<div class="a t" id="esub" style="left:1052.3px;top:1812.5px;font-size:29.0px;font-weight:400;color:#555555;transform:scaleX(0.9703);transform-origin:left;">View and compare performance metrics of the original experience and its variations</div>
<div class="a t" id="help" style="left:3247.8px;transform:translateX(-50%);top:1767.5px;font-size:36.0px;font-weight:700;color:#555555;">?</div>
<script>(function(){var w=window.innerWidth;if(w&&Math.abs(w-3360)>2){document.documentElement.style.zoom=w/3360;}})();</script>
</body></html>
